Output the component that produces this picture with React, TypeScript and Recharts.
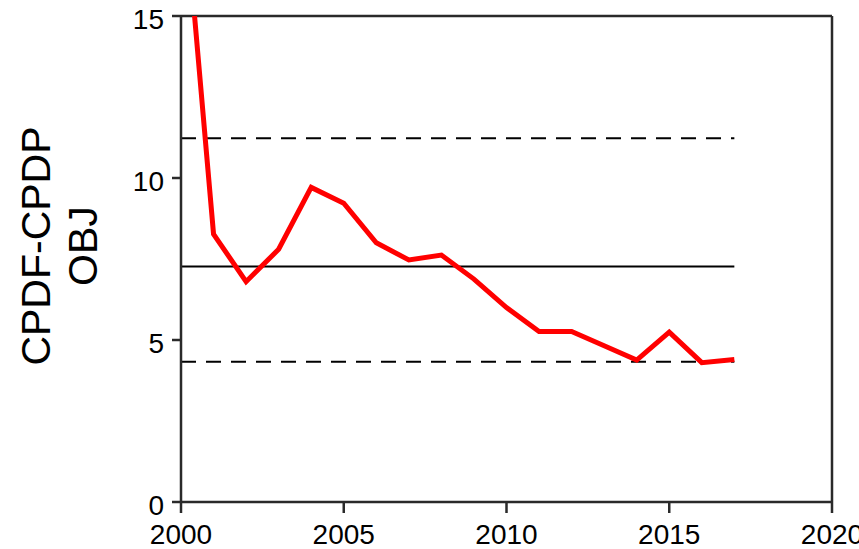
import React from 'react';
import { LineChart, Line, XAxis, YAxis, ReferenceLine } from 'recharts';

const years = [2000, 2001, 2002, 2003, 2004, 2005, 2006, 2007, 2008, 2009, 2010, 2011, 2012, 2013, 2014, 2015, 2016, 2017];
const objValues = [19.8, 8.27, 6.8, 7.8, 9.71, 9.22, 8.0, 7.47, 7.62, 6.88, 6.0, 5.26, 5.26, 4.82, 4.38, 5.24, 4.3, 4.4];
const meanValue = 7.27;
const upperLimit = 11.23;
const lowerLimit = 4.33;
const lineStart = 2000;
const lineEnd = 2017;
const xTicks = [2000, 2005, 2010, 2015, 2020];
const yTicks = [0, 5, 10, 15];
const yLabelLines = ['CPDF-CPDP', 'OBJ'];

const data = years.map((y, i) => ({ year: y, obj: objValues[i] }));

const FONT = '"Liberation Sans", Arial, Helvetica, sans-serif';
const AXIS = '#2a2a2a';

const YLabel = () => (
  <text
    transform="translate(50,246) rotate(-90)"
    textAnchor="middle"
    fontFamily={FONT}
    fontSize={41}
    fill="#000"
  >
    <tspan x={0} y={0}>{yLabelLines[0]}</tspan>
    <tspan x={0} y={47}>{yLabelLines[1]}</tspan>
  </text>
);

export default function App() {
  return (
    <div style={{ position: 'absolute', left: 0, top: 0, background: '#fff' }}>
      <LineChart width={859} height={549} data={data} margin={{ top: 16, right: 27, bottom: 0, left: 0 }}>
        <XAxis
          dataKey="year"
          type="number"
          domain={[2000, 2020]}
          ticks={xTicks}
          interval={0}
          height={47}
          tickSize={11}
          tickMargin={11}
          stroke={AXIS}
          strokeWidth={2.5}
          tick={{ fontSize: 28, fill: '#000', fontFamily: FONT }}
          allowDataOverflow
        />
        <YAxis
          type="number"
          domain={[0, 15]}
          ticks={yTicks}
          interval={0}
          width={181}
          tickSize={9}
          tickMargin={8}
          stroke={AXIS}
          strokeWidth={2.5}
          tick={{ fontSize: 28, fill: '#000', fontFamily: FONT, dy: 3 }}
          allowDataOverflow
          label={<YLabel />}
        />
        <ReferenceLine y={15} stroke={AXIS} strokeWidth={2.5} />
        <ReferenceLine x={2020} stroke={AXIS} strokeWidth={2.5} />
        <ReferenceLine
          segment={[{ x: lineStart, y: upperLimit }, { x: lineEnd, y: upperLimit }]}
          stroke="#000"
          strokeWidth={2}
          strokeDasharray="15 10"
        />
        <ReferenceLine
          segment={[{ x: lineStart, y: meanValue }, { x: lineEnd, y: meanValue }]}
          stroke="#000"
          strokeWidth={2}
        />
        <ReferenceLine
          segment={[{ x: lineStart, y: lowerLimit }, { x: lineEnd, y: lowerLimit }]}
          stroke="#000"
          strokeWidth={2}
          strokeDasharray="15 10"
        />
        <Line
          dataKey="obj"
          stroke="#ff0000"
          strokeWidth={5}
          dot={false}
          isAnimationActive={false}
          strokeLinejoin="miter"
        />
      </LineChart>
    </div>
  );
}
